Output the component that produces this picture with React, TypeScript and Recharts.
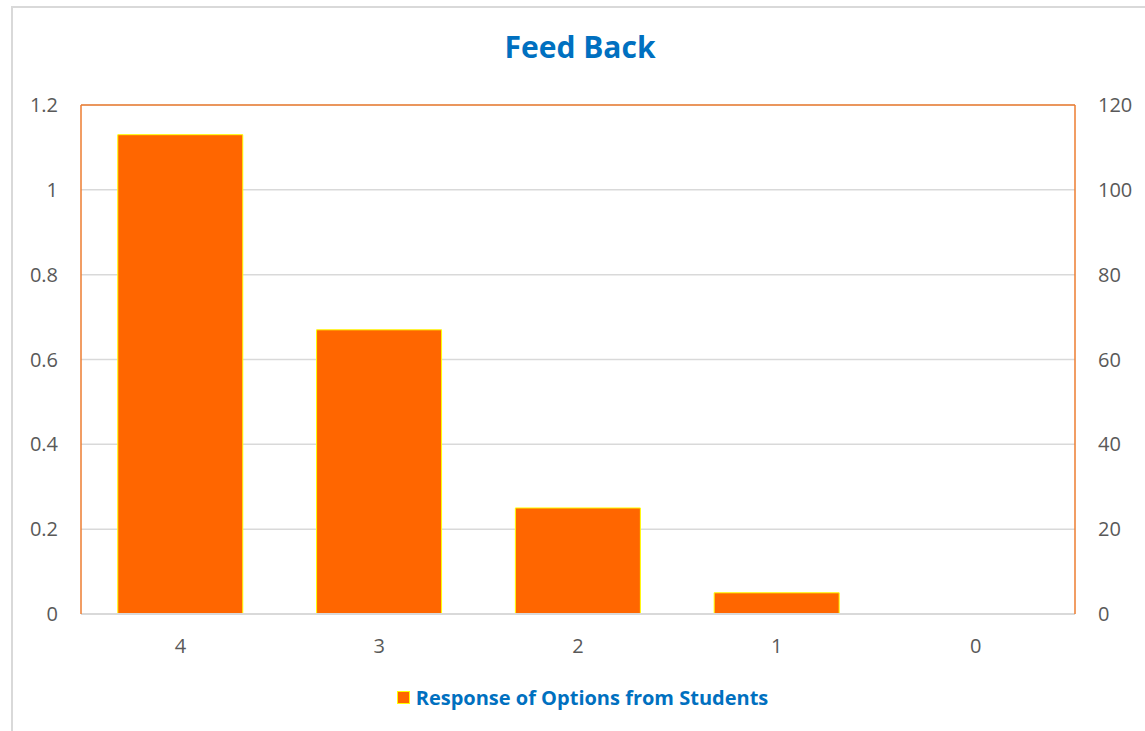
import { Bar, CartesianGrid, ComposedChart, Legend, Line, ReferenceLine, XAxis, YAxis } from "recharts";

const options = ["4", "3", "2", "1", "0"];
const responses = [113, 67, 25, 5, 0];
const leftTicks = [0, 0.2, 0.4, 0.6, 0.8, 1, 1.2];
const rightTicks = [0, 20, 40, 60, 80, 100, 120];

const data = options.map((name, i) => ({ name, value: responses[i] }));

const FONT = "'Open Sans', sans-serif";
const tick = { fill: "#595959", fontSize: 20, fontFamily: FONT };

function LegendBox() {
  return (
    <div style={{ height: 77, boxSizing: "border-box", paddingTop: 30, paddingLeft: 20 }}>
      <div style={{ display: "flex", alignItems: "center", justifyContent: "center", height: 26, fontFamily: FONT }}>
        <span style={{ width: 11, height: 11, background: "#FF6600", border: "1px solid #FFFF00", marginRight: 6 }} />
        <span style={{ color: "#0070C0", fontWeight: 700, fontSize: 20 }}>Response of Options from Students</span>
      </div>
    </div>
  );
}

export default function App() {
  return (
    <div style={{ position: "absolute", top: 0, left: 0, width: 1145, height: 731, background: "#fff", fontFamily: FONT }}>
      <div style={{ position: "absolute", left: 11, top: 6, right: 0, bottom: 0, borderLeft: "2px solid #D9D9D9", borderTop: "2px solid #D9D9D9" }} />
      <div style={{ position: "absolute", top: 26, left: 0, width: 1160, textAlign: "center", color: "#0070C0", fontWeight: 700, fontSize: 30 }}>
        Feed Back
      </div>
      <ComposedChart width={1145} height={731} data={data} margin={{ top: 105, right: 0, bottom: 0, left: 0 }} barCategoryGap="18.5%">
        <CartesianGrid yAxisId="right" vertical={false} stroke="#D9D9D9" strokeWidth={1.5} />
        <XAxis dataKey="name" tick={tick} tickLine={false} axisLine={{ stroke: "#D9D9D9", strokeWidth: 2 }} height={40} tickMargin={19} />
        <YAxis yAxisId="left" type="number" domain={[0, 1.2]} allowDataOverflow ticks={leftTicks} tick={tick} tickLine={false} axisLine={{ stroke: "#ED7D31", strokeWidth: 1.5 }} width={81} tickMargin={17} />
        <YAxis yAxisId="right" orientation="right" domain={[0, 120]} ticks={rightTicks} tick={tick} tickLine={false} axisLine={{ stroke: "#ED7D31", strokeWidth: 1.5 }} width={70} tickMargin={17} />
        <Line yAxisId="left" dataKey="none" stroke="none" dot={false} legendType="none" isAnimationActive={false} />
        <Bar yAxisId="right" dataKey="value" fill="#FF6600" stroke="#FFFF00" strokeWidth={1} isAnimationActive={false} />
        <ReferenceLine yAxisId="right" y={120} stroke="#ED7D31" strokeWidth={1.5} />
        <Legend verticalAlign="bottom" content={() => <LegendBox />} />
      </ComposedChart>
    </div>
  );
}
